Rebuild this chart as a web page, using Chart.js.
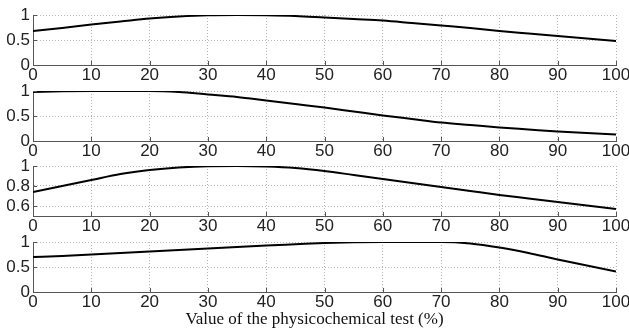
<!DOCTYPE html>
<html>
<head>
<meta charset="utf-8">
<script src="https://cdn.jsdelivr.net/npm/chart.js@4.4.1/dist/chart.umd.min.js"></script>
<style>
  html, body { margin: 0; padding: 0; background: #fff; }
  #wrap { position: relative; width: 629px; height: 331px; overflow: hidden; }
  .panel { position: absolute; left: 0; }
  #xtitle {
    position: absolute; left: 0; width: 629px; top: 309px;
    text-align: center; font-family: "Liberation Serif", "Times New Roman", serif;
    font-size: 17px; color: #111;
  }
</style>
</head>
<body>
<div id="wrap">
  <canvas id="c0" class="panel" width="629" height="84"></canvas>
  <canvas id="c1" class="panel" width="629" height="84"></canvas>
  <canvas id="c2" class="panel" width="629" height="84"></canvas>
  <canvas id="c3" class="panel" width="629" height="84"></canvas>
  <div id="xtitle">Value of the physicochemical test (%)</div>
</div>
<script>
// x positions (test value, %)
const xValues = [0, 5, 10, 15, 20, 25, 30, 35, 40, 45, 50, 55, 60, 65, 70, 75, 80, 85, 90, 95, 100];
const xTicks = [0, 10, 20, 30, 40, 50, 60, 70, 80, 90, 100];

// membership curves
const curve1 = [0.68, 0.74, 0.81, 0.87, 0.93, 0.97, 0.995, 1.0, 0.995, 0.98, 0.95, 0.92, 0.89, 0.84, 0.79, 0.74, 0.68, 0.63, 0.58, 0.53, 0.48];
const curve2 = [0.98, 0.995, 1.0, 1.0, 1.0, 0.98, 0.93, 0.88, 0.81, 0.74, 0.67, 0.59, 0.51, 0.44, 0.37, 0.32, 0.27, 0.23, 0.19, 0.16, 0.13];
const curve3 = [0.74, 0.80, 0.86, 0.92, 0.96, 0.985, 0.998, 1.0, 0.995, 0.98, 0.95, 0.91, 0.87, 0.83, 0.79, 0.75, 0.71, 0.675, 0.64, 0.605, 0.57];
const curve4 = [0.70, 0.72, 0.75, 0.78, 0.81, 0.84, 0.87, 0.90, 0.93, 0.955, 0.98, 0.995, 1.0, 1.0, 1.0, 0.97, 0.89, 0.78, 0.65, 0.53, 0.41];

// y axis ranges and tick labels for each panel
const yMins = [0, 0, 0.5, 0];
const yTicks1 = [0, 0.5, 1];
const yTicks2 = [0, 0.5, 1];
const yTicks3 = [0.6, 0.8, 1];
const yTicks4 = [0, 0.5, 1];

const panelTops = [15, 91, 166, 242];
const PAD_TOP = 10;
const AXIS_W = 33;
const XAXIS_H = 24;

const tickFont = { family: '"Liberation Sans", Arial, sans-serif', size: 17 };
const gridColor = '#b4b4b4';
const axisColor = '#555';

// MATLAB-style inward tick marks
const inwardTicks = {
  id: 'inwardTicks',
  afterDatasetsDraw(chart) {
    const { ctx, chartArea, scales } = chart;
    ctx.save();
    ctx.strokeStyle = axisColor;
    ctx.lineWidth = 1;
    ctx.beginPath();
    scales.x.ticks.forEach(t => {
      const px = Math.round(scales.x.getPixelForValue(t.value)) + 0.5;
      ctx.moveTo(px, chartArea.bottom);
      ctx.lineTo(px, chartArea.bottom - 4);
    });
    scales.y.ticks.forEach(t => {
      const py = Math.round(scales.y.getPixelForValue(t.value)) + 0.5;
      ctx.moveTo(chartArea.left, py);
      ctx.lineTo(chartArea.left + 4, py);
    });
    ctx.stroke();
    ctx.restore();
  }
};

function makePanel(id, values, yMin, yTickList, top) {
  const canvas = document.getElementById(id);
  canvas.style.top = (top - PAD_TOP) + 'px';
  return new Chart(canvas, {
    type: 'line',
    data: {
      datasets: [{
        data: xValues.map((x, i) => ({ x: x, y: values[i] })),
        borderColor: '#000',
        borderWidth: 2,
        pointRadius: 0,
        cubicInterpolationMode: 'monotone',
        fill: false
      }]
    },
    options: {
      responsive: false,
      animation: false,
      devicePixelRatio: 1,
      layout: { padding: { top: PAD_TOP, left: 0, right: 13, bottom: 0 } },
      plugins: { legend: { display: false }, tooltip: { enabled: false } },
      scales: {
        x: {
          type: 'linear',
          min: 0,
          max: 100,
          afterBuildTicks: (scale) => { scale.ticks = xTicks.map(v => ({ value: v })); },
          afterFit: (scale) => {
            scale.height = XAXIS_H;
            scale.paddingLeft = 0;
            scale.paddingRight = 0;
          },
          ticks: { font: tickFont, color: '#222', padding: 0, maxRotation: 0, autoSkip: false,
                   callback: (v) => String(v) },
          grid: { color: gridColor, drawTicks: false, tickLength: 0 },
          border: { color: axisColor, width: 1, dash: [1, 2] }
        },
        y: {
          type: 'linear',
          min: yMin,
          max: 1,
          afterBuildTicks: (scale) => { scale.ticks = yTickList.map(v => ({ value: v })); },
          afterFit: (scale) => {
            scale.width = AXIS_W;
            scale.paddingTop = 0;
            scale.paddingBottom = 0;
          },
          ticks: { font: tickFont, color: '#222', padding: 3, autoSkip: false,
                   callback: (v) => String(v) },
          grid: { color: gridColor, drawTicks: false, tickLength: 0 },
          border: { color: axisColor, width: 1, dash: [1, 2] }
        }
      }
    },
    plugins: [inwardTicks]
  });
}

const allCurves = [curve1, curve2, curve3, curve4];
const allTicks = [yTicks1, yTicks2, yTicks3, yTicks4];
allCurves.forEach((c, i) => {
  makePanel('c' + i, c, yMins[i], allTicks[i], panelTops[i]);
});
</script>
</body>
</html>
